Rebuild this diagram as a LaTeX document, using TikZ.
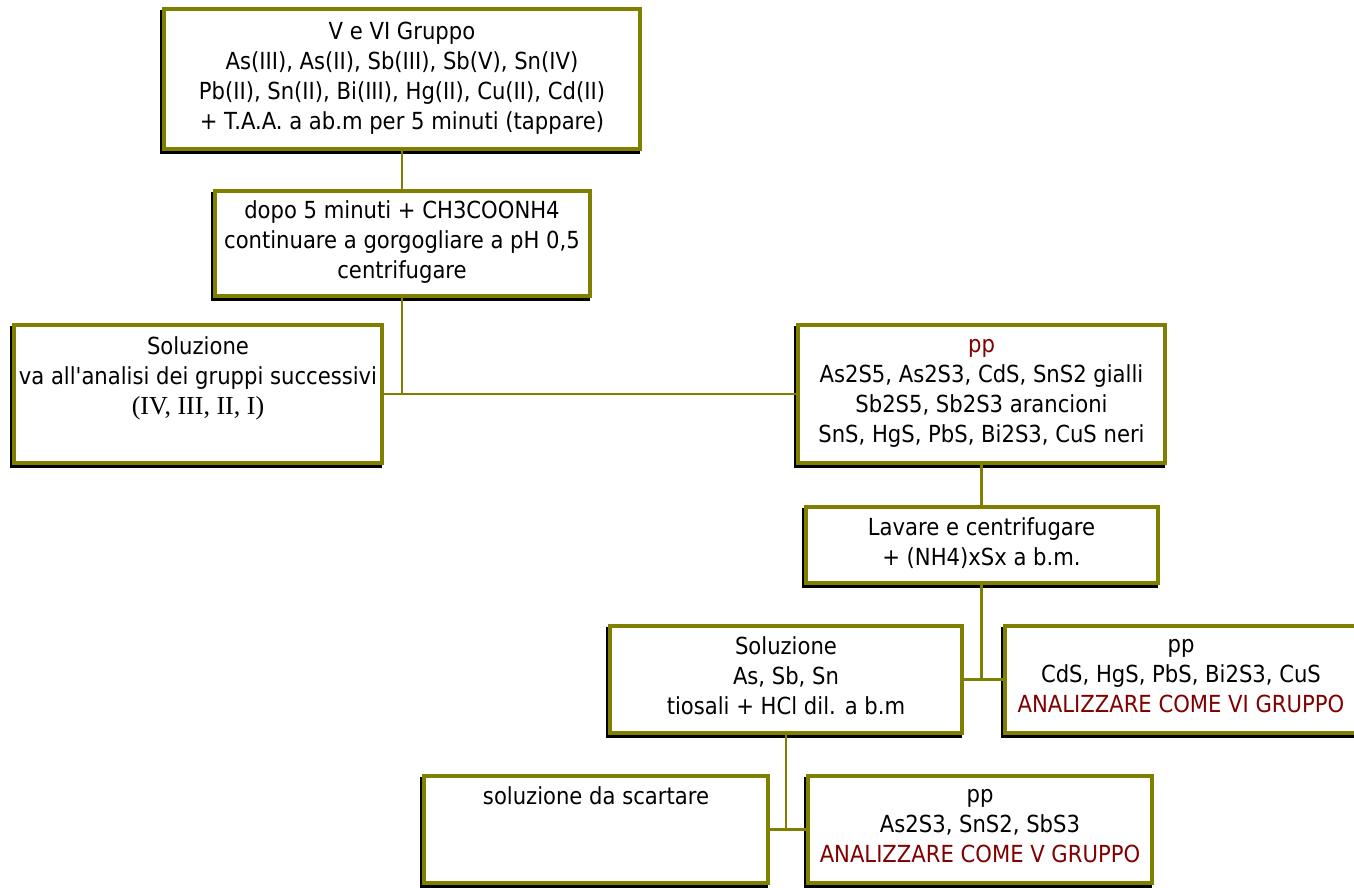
\documentclass[tikz,border=0pt]{standalone}
\usepackage{fontspec}
\usetikzlibrary{positioning}
\usetikzlibrary{shadows}
\newfontfamily\boxfont{DejaVu Sans Condensed}
\newfontfamily\serifnum{Liberation Serif}
\definecolor{olivebox}{RGB}{128,128,0}
\definecolor{ppred}{RGB}{128,0,0}

\begin{document}
\begin{tikzpicture}[x=1pt,y=-1pt,
    stepbox/.style={draw=olivebox, line width=4pt, fill=white, align=center,
      inner sep=0pt, font=\boxfont\fontsize{23.5}{30}\selectfont,
      execute at begin node=\rule{0pt}{22.5pt},
      execute at end node=\rule[-7pt]{0pt}{7pt},
      drop shadow={shadow xshift=-2pt, shadow yshift=-3pt, opacity=1,
        fill=black, draw=black, line width=4pt}},
    link/.style={draw=olivebox, line width=2.8pt}]
      \useasboundingbox (0,0) rectangle (1354,888);
      \node[stepbox, minimum width=476pt, minimum height=140pt] (gruppo) at (402,79)
        {V e VI Gruppo\\As(III), As(II), Sb(III), Sb(V), Sn(IV)\\Pb(II), Sn(II), Bi(III), Hg(II), Cu(II), Cd(II)\\+ T.A.A. a ab.m per 5 minuti (tappare)};
      \node[stepbox, minimum width=375pt, minimum height=105pt, below=38pt of gruppo] (dopo)
        {dopo 5 minuti + CH3COONH4\\continuare a gorgogliare a pH 0,5\\centrifugare};
      \node[stepbox, minimum width=368pt, minimum height=138pt] (soluz) at (198,394)
        {Soluzione\\va all'analisi dei gruppi successivi\\{\serifnum\fontsize{26}{30}\selectfont (IV, III, II, I)}\\~};
      \node[stepbox, minimum width=367pt, minimum height=138pt] (ppall) at (981.5,394)
        {{\color{ppred}pp}\\As2S5, As2S3, CdS, SnS2 gialli\\Sb2S5, Sb2S3 arancioni\\SnS, HgS, PbS, Bi2S3, CuS neri};
      \node[stepbox, minimum width=352pt, minimum height=76pt, below=40pt of ppall] (lavare)
        {Lavare e centrifugare\\+ (NH4)xSx a b.m.};
      \node[stepbox, minimum width=352pt, minimum height=107pt] (tiosali) at (786,679.5)
        {Soluzione\\As, Sb, Sn\\tiosali + HCl dil. a b.m};
      \node[stepbox, minimum width=352pt, minimum height=107pt, right=39pt of tiosali] (ppsei)
        {pp\\CdS, HgS, PbS, Bi2S3, CuS\\{\color{ppred}ANALIZZARE COME VI GRUPPO}};
      \node[stepbox, minimum width=344pt, minimum height=107pt] (scarto) at (596,829.5)
        {soluzione da scartare\\~\\~};
      \node[stepbox, minimum width=344pt, minimum height=107pt, right=36pt of scarto] (ppcinque)
        {pp\\As2S3, SnS2, SbS3\\{\color{ppred}ANALIZZARE COME V GRUPPO}};
      % connectors
      \draw[link] (gruppo.south) -- (dopo.north);
      \draw[link] (soluz.east) -- (ppall.west);
      \draw[link] (dopo.south) -- (dopo.south |- soluz.east);
      \draw[link] (ppall.south) -- (lavare.north);
      \draw[link] (tiosali.east) -- (ppsei.west);
      \draw[link] (lavare.south) -- (lavare.south |- tiosali.east);
      \draw[link] (scarto.east) -- (ppcinque.west);
      \draw[link] (tiosali.south) -- (tiosali.south |- scarto.east);
    \end{tikzpicture}
\end{document}
